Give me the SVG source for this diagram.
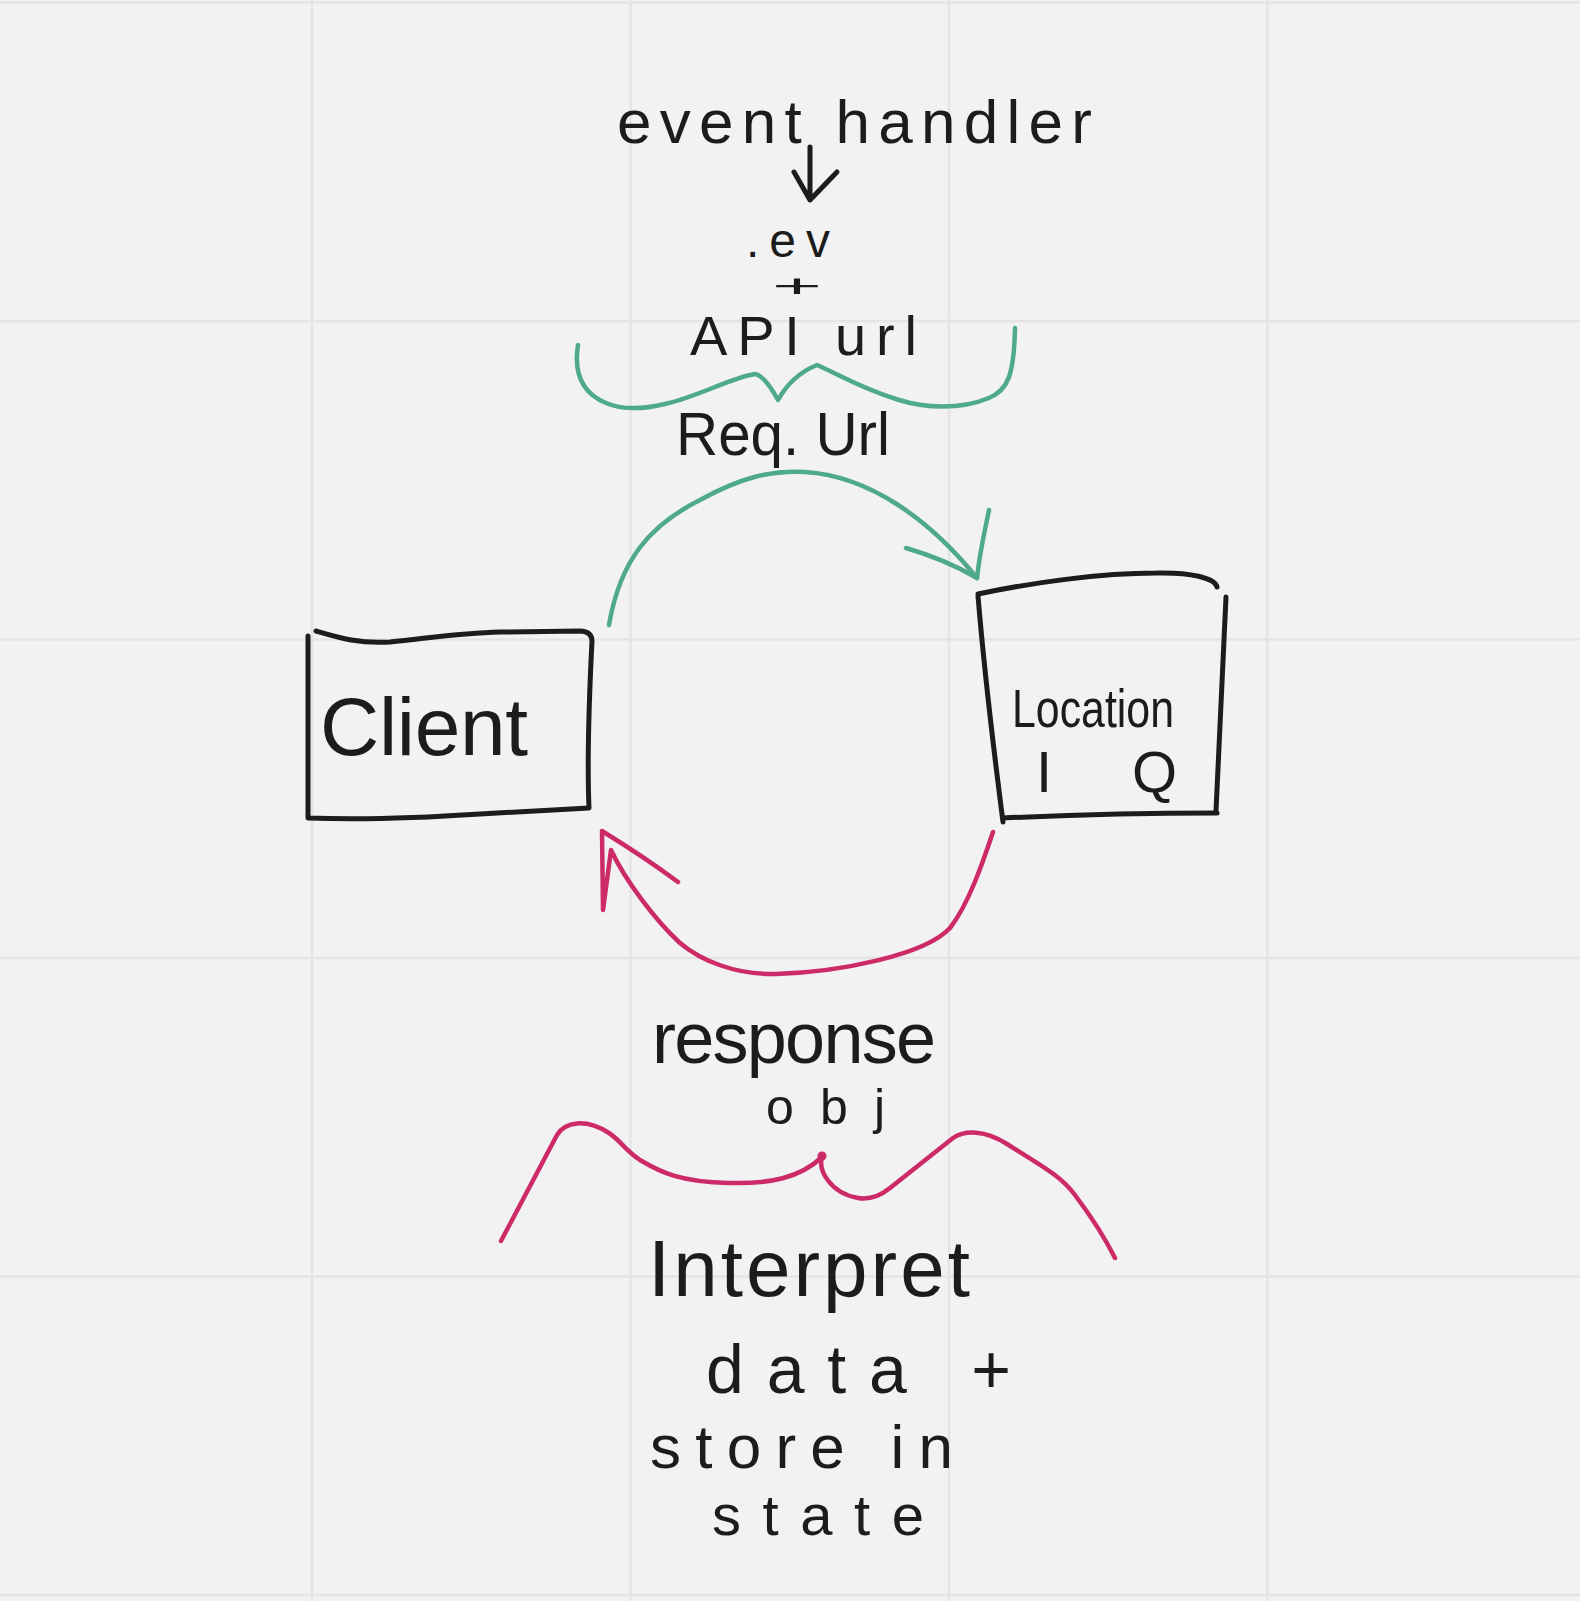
<svg xmlns="http://www.w3.org/2000/svg" width="1580" height="1601" viewBox="0 0 1580 1601">
<style>
.grid{stroke:#e4e4e4;stroke-width:2.5}
.ink{fill:none;stroke:#1c1c1c;stroke-width:5;stroke-linecap:round;stroke-linejoin:round}
.green{fill:none;stroke:#4fa98b;stroke-width:4.5;stroke-linecap:round;stroke-linejoin:round}
.pink{fill:none;stroke:#cc2b68;stroke-width:4.5;stroke-linecap:round;stroke-linejoin:round}
.t{font-family:"Liberation Sans",Arial,sans-serif;fill:#1c1c1c}
</style>
<rect width="1580" height="1601" fill="#f2f2f2"/>
<g id="grid">
<line class="grid" x1="312" y1="0" x2="312" y2="1601"/>
<line class="grid" x1="630.5" y1="0" x2="630.5" y2="1601"/>
<line class="grid" x1="949" y1="0" x2="949" y2="1601"/>
<line class="grid" x1="1267.5" y1="0" x2="1267.5" y2="1601"/>
<line class="grid" x1="0" y1="2.5" x2="1580" y2="2.5"/>
<line class="grid" x1="0" y1="321" x2="1580" y2="321"/>
<line class="grid" x1="0" y1="639.5" x2="1580" y2="639.5"/>
<line class="grid" x1="0" y1="958" x2="1580" y2="958"/>
<line class="grid" x1="0" y1="1276.5" x2="1580" y2="1276.5"/>
<line class="grid" x1="0" y1="1595" x2="1580" y2="1595"/>
</g>
<g id="event-handler">
<text class="t" x="617" y="143" font-size="62" textLength="475">event handler</text>
</g>
<g id="ev-plus-api">
<text class="t" x="746" y="257" font-size="48" textLength="84">.ev</text>
<text class="t" x="772" y="297" font-size="32" textLength="50" lengthAdjust="spacingAndGlyphs">+</text>
<text class="t" x="690" y="355" font-size="56" textLength="227">API url</text>
</g>
<g id="req-url">
<text class="t" x="676" y="455" font-size="62" textLength="214" lengthAdjust="spacingAndGlyphs">Req. Url</text>
</g>
<g id="client">
<path class="ink" d="M316,631 C340,638 360,644 390,642 C430,638 460,633 500,632 L581,631 Q592,632 592,641 C589,700 587,760 589,808 L480,814 C420,818 360,820 308,818 L308,636"/>
<text class="t" x="320" y="755" font-size="82" textLength="208">Client</text>
</g>
<g id="location-iq">
<path class="ink" d="M978,594 C1030,583 1100,573 1156,573 C1190,572 1215,578 1217,587"/>
<path class="ink" d="M978,596 C985,680 995,760 1003,822"/>
<path class="ink" d="M1003,818 C1070,815 1150,813 1217,813"/>
<path class="ink" d="M1226,597 C1222,680 1218,760 1216,811"/>
<text class="t" x="1012" y="727" font-size="54" textLength="162" lengthAdjust="spacingAndGlyphs">Location</text>
<text class="t" x="1036" y="792" font-size="58" textLength="141">IQ</text>
</g>
<g id="connectors">
<path class="ink" d="M810,147 L810,200 M794,172 L810,200 L837,172"/>
<path class="green" d="M578,345 C574,370 580,392 606,403 C620,409 640,410 665,404 C700,396 730,378 755,374 Q765,376 778,400 Q792,375 817,365 C840,375 860,388 899,400 C925,408 960,410 989,398 C1008,390 1014,375 1015,328"/>
<path class="green" d="M609,625 C620,560 650,525 700,500 C740,478 770,470 805,472 C870,476 930,520 977,578"/>
<path class="green" d="M906,548 C930,555 955,565 977,578 M989,510 C985,530 980,550 977,578"/>
<path class="pink" d="M993,832 C982,865 968,905 950,928 C925,955 840,972 776,974 C735,975 700,960 680,943 C655,920 625,880 611,850 L603,910 L602,831 C620,842 655,865 678,882"/>
<path class="pink" d="M501,1241 L557,1135 C565,1122 585,1118 609,1133 C620,1140 625,1150 640,1160 C660,1172 680,1182 729,1183 C770,1184 800,1178 822,1157 C818,1170 830,1193 858,1198 C870,1200 880,1196 890,1188 L953,1138 C965,1130 985,1130 1007,1144 C1040,1165 1060,1175 1075,1195 C1090,1215 1105,1238 1115,1258"/>
<circle cx="822" cy="1156" r="4.5" fill="#cc2b68"/>
</g>
<g id="response-obj">
<text class="t" x="652" y="1063" font-size="72" textLength="284">response</text>
<text class="t" x="766" y="1124" font-size="50" textLength="119">obj</text>
</g>
<g id="interpret">
<text class="t" x="648" y="1296" font-size="80" textLength="322">Interpret</text>
<text class="t" x="706" y="1393" font-size="68" textLength="305">data +</text>
<text class="t" x="650" y="1468" font-size="62" textLength="303">store in</text>
<text class="t" x="712" y="1535" font-size="58" textLength="212">state</text>
</g>
</svg>
